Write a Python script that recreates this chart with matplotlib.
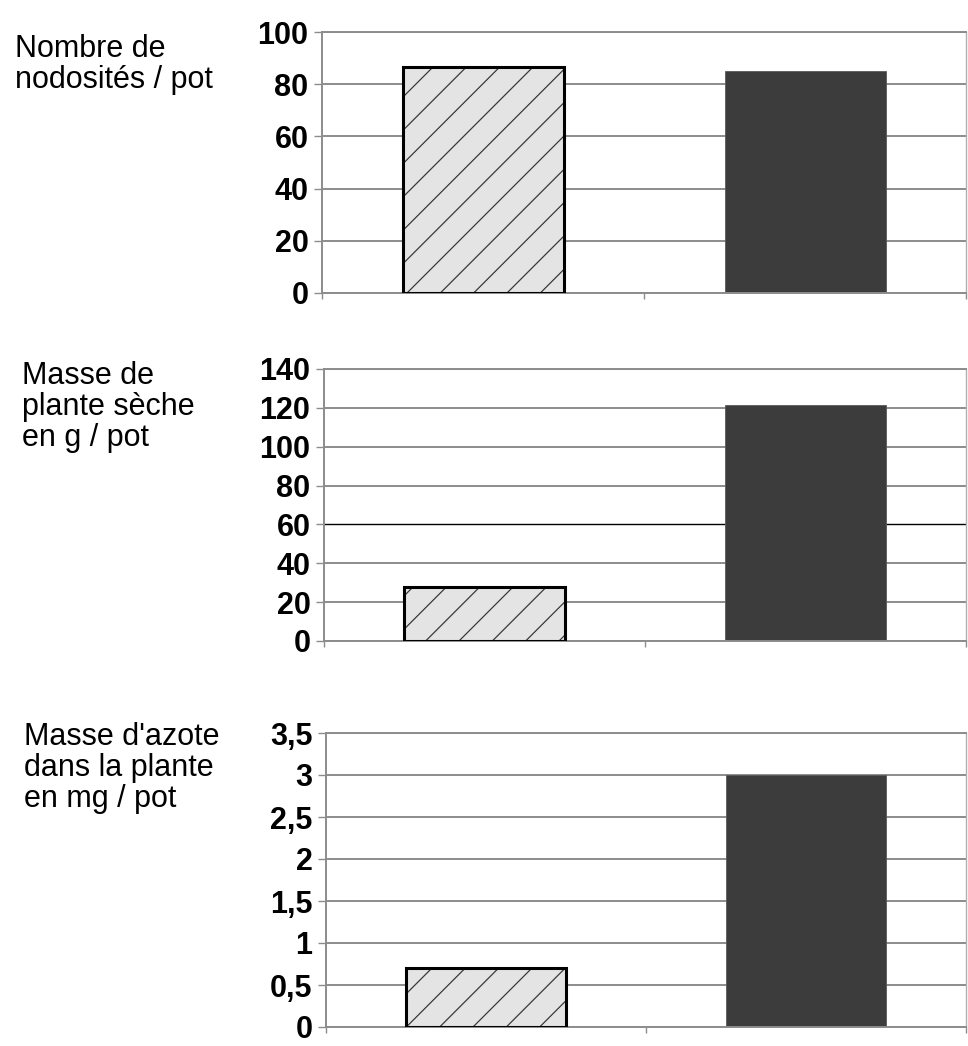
import numpy as np
import matplotlib
matplotlib.use("Agg")
import matplotlib.pyplot as plt

plt.rcParams["font.family"] = ["Liberation Sans", "DejaVu Sans"]
plt.rcParams["hatch.linewidth"] = 0.9

# ---------------------------------------------------------------------------
# Data (two conditions, no category labels on the original figure)
# ---------------------------------------------------------------------------
conditions = ["condition 1", "condition 2"]

nodosites = [86.5, 85.0]
masse_seche = [28.0, 121.5]
masse_azote = [0.7, 3.0]

titles = [
    "Nombre de\nnodosités / pot",
    "Masse de\nplante sèche\nen g / pot",
    "Masse d'azote\ndans la plante\nen mg / pot",
]

ticks_nod = [0, 20, 40, 60, 80, 100]
ticks_seche = [0, 20, 40, 60, 80, 100, 120, 140]
ticks_azote = [0, 0.5, 1, 1.5, 2, 2.5, 3, 3.5]
labels_azote = ["0", "0,5", "1", "1,5", "2", "2,5", "3", "3,5"]

# ---------------------------------------------------------------------------
# Layout
# ---------------------------------------------------------------------------
W, H = 968, 1046
DPI = 100
fig = plt.figure(figsize=(W / DPI, H / DPI), dpi=DPI)

# (left, bottom, right, top) in pixels from top-left
boxes = [
    (322, 293, 966, 32),
    (324, 641, 966, 369),
    (326, 1027, 966, 733),
]
title_pos = [(15, 34), (22, 361), (24, 722)]

grid_col = "#8c8c8c"
x = np.arange(len(conditions))


def make_panel(box, values, ticks, labels, title, tpos, dark_line=None):
    l, b, r, t = box
    ax = fig.add_axes([l / W, 1 - b / H, (r - l) / W, (b - t) / H])
    ax.set_xlim(-0.5, 1.5)
    ax.set_ylim(ticks[0], ticks[-1])
    ax.set_axisbelow(True)

    # light bar with hatch, then thick outline
    ax.bar(x[0], values[0], width=0.5, color="#e4e4e4", edgecolor="#3a3a3a",
           hatch="/", linewidth=0, zorder=2)
    ax.bar(x[0], values[0], width=0.5, fill=False, edgecolor="black",
           linewidth=2.2, zorder=3)
    # dark bar
    ax.bar(x[1], values[1], width=0.5, color="#3c3c3c", edgecolor="#5a5a5a",
           linewidth=0.6, zorder=2)

    ax.set_yticks(ticks)
    ax.set_yticklabels(labels, fontsize=22, fontweight="bold")
    ax.set_xticks([-0.5, 0.5, 1.5])
    ax.set_xticklabels([])
    ax.tick_params(axis="y", length=5.8, width=1.0, color=grid_col, pad=4.0)
    ax.tick_params(axis="x", length=4.4, width=1.0, color=grid_col)

    ax.grid(True, axis="y", color=grid_col, linewidth=1.4)
    if dark_line is not None:
        ax.get_ygridlines()[dark_line].set_color("black")
        ax.get_ygridlines()[dark_line].set_linewidth(1.0)

    for side in ["left", "bottom"]:
        ax.spines[side].set_color(grid_col)
        ax.spines[side].set_linewidth(1.4)
    ax.spines["right"].set_color("#b0b0b0")
    ax.spines["right"].set_linewidth(1.0)
    ax.spines["top"].set_color(grid_col)
    ax.spines["top"].set_linewidth(1.4)

    fig.text(tpos[0] / W, 1 - tpos[1] / H, title, fontsize=22,
             ha="left", va="top", linespacing=1.05)
    return ax


make_panel(boxes[0], nodosites, ticks_nod, [str(v) for v in ticks_nod],
           titles[0], title_pos[0])
make_panel(boxes[1], masse_seche, ticks_seche, [str(v) for v in ticks_seche],
           titles[1], title_pos[1], dark_line=3)
make_panel(boxes[2], masse_azote, ticks_azote, labels_azote,
           titles[2], title_pos[2])

fig.savefig("out.png", dpi=DPI)
